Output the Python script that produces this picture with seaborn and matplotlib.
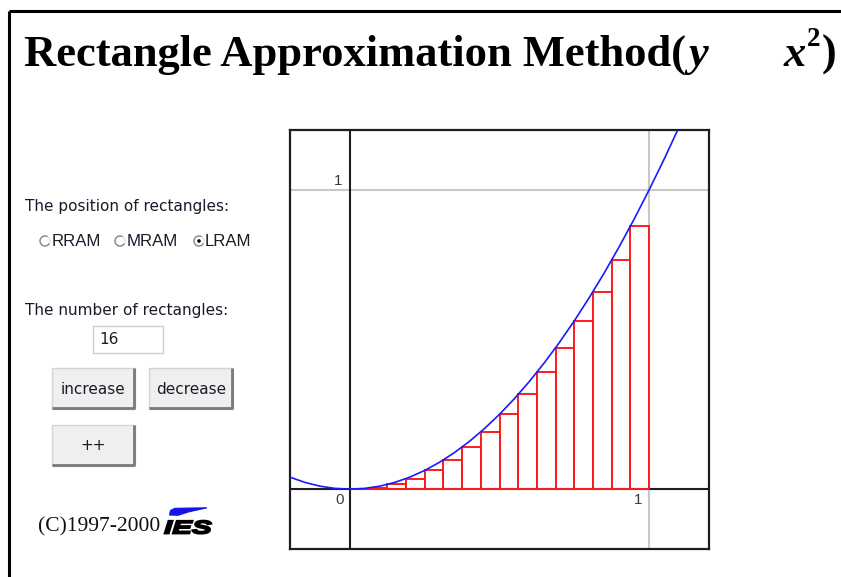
import numpy as np
import pandas as pd
import seaborn as sns
import matplotlib
matplotlib.use("Agg")
import matplotlib.pyplot as plt
from matplotlib.patches import Rectangle, Circle, Polygon, PathPatch, Arc
from matplotlib.textpath import TextPath
from matplotlib.font_manager import FontProperties
from matplotlib.transforms import Affine2D

# ---------------- data ----------------
curve_x = [-0.20, -0.15, -0.10, -0.05, 0.00, 0.05, 0.10, 0.15, 0.20, 0.25, 0.30,
           0.35, 0.40, 0.45, 0.50, 0.55, 0.60, 0.65, 0.70, 0.75, 0.80, 0.85,
           0.90, 0.95, 1.00, 1.05, 1.10]
curve_y = [0.0400, 0.0225, 0.0100, 0.0025, 0.0000, 0.0025, 0.0100, 0.0225, 0.0400,
           0.0625, 0.0900, 0.1225, 0.1600, 0.2025, 0.2500, 0.3025, 0.3600, 0.4225,
           0.4900, 0.5625, 0.6400, 0.7225, 0.8100, 0.9025, 1.0000, 1.1025, 1.2100]
rect_left = [0.0000, 0.0625, 0.1250, 0.1875, 0.2500, 0.3125, 0.3750, 0.4375,
             0.5000, 0.5625, 0.6250, 0.6875, 0.7500, 0.8125, 0.8750, 0.9375]
rect_height = [0.0000, 0.0039, 0.0156, 0.0352, 0.0625, 0.0977, 0.1406, 0.1914,
               0.2500, 0.3164, 0.3906, 0.4727, 0.5625, 0.6602, 0.7656, 0.8789]
rect_width = 0.0625
tick_labels = ["0", "1", "1"]
title_main = "Rectangle Approximation Method("
n_rect = "16"
radio_labels = ["RRAM", "MRAM", "LRAM"]
selected = "LRAM"
button_labels = ["increase", "decrease", "++"]

# ---------------- figure ----------------
sns.set_theme(style="white")
plt.rcParams["font.family"] = ["Liberation Sans", "DejaVu Sans"]
W, H = 841, 577
fig = plt.figure(figsize=(W / 100, H / 100), dpi=100)
fig.patch.set_facecolor("white")

ui = fig.add_axes([0, 0, 1, 1])
ui.set_xlim(0, W)
ui.set_ylim(H, 0)
ui.axis("off")

def px(p):
    return p * 0.72

# outer frame (top and left edges visible)
ui.plot([9.5, W + 5], [11, 11], color="black", lw=2.2, solid_capstyle="butt")
ui.plot([9.5, 9.5], [11, H + 5], color="black", lw=2.2, solid_capstyle="butt")

# title
serif = ["Liberation Serif", "DejaVu Serif"]
tfs_title = px(44.5)
ui.text(24, 66, title_main, fontsize=tfs_title, fontweight="bold", family=serif,
        va="baseline", ha="left", color="black")
ui.text(688, 66, "y", fontsize=tfs_title, fontweight="bold", fontstyle="italic",
        family=serif, va="baseline", ha="left", color="black")
ui.text(784, 66, "x", fontsize=tfs_title, fontweight="bold", fontstyle="italic",
        family=serif, va="baseline", ha="left", color="black")
ui.text(807, 46, "2", fontsize=px(27), fontweight="bold", family=serif,
        va="baseline", ha="left", color="black")
ui.text(822, 66, ")", fontsize=tfs_title, fontweight="bold", family=serif,
        va="baseline", ha="left", color="black")

lab_font = ["DejaVu Sans"]
lab_fs = px(15.2)
txtc = "#1a1a2a"
ui.text(25, 207, "The position of rectangles:", fontsize=lab_fs, color=txtc,
        va="center", ha="left", family=lab_font)
ui.text(25, 311, "The number of rectangles:", fontsize=lab_fs, color=txtc,
        va="center", ha="left", family=lab_font)

# radio buttons
radio_cx = [45, 120, 199]
radio_tx = [52, 127, 205]
for cx, tx, lab in zip(radio_cx, radio_tx, radio_labels):
    ui.add_patch(Circle((cx, 241), 5, facecolor="white", edgecolor="#e0e0e0", lw=1))
    ui.add_patch(Arc((cx, 241), 10, 10, theta1=30, theta2=300, color="#8a8a8a", lw=1))
    if lab == selected:
        ui.add_patch(Circle((cx, 241), 1.8, facecolor="black", edgecolor="none"))
    ui.text(tx, 241.5, lab, fontsize=px(16.8), color=txtc, va="center", ha="left",
            family=["Liberation Sans"])

# text field
ui.add_patch(Rectangle((93, 326), 70, 27, facecolor="white", edgecolor="#cfcfcf", lw=1))
ui.text(99, 339.5, n_rect, fontsize=lab_fs, color=txtc, va="center", ha="left",
        family=lab_font)

# buttons
def button(x0, y0, x1, y1, label):
    ui.add_patch(Rectangle((x0, y0), x1 - x0, y1 - y0, facecolor="#efefef",
                           edgecolor="#d4d4d4", lw=1))
    ui.plot([x1 - 1, x1 - 1, x0], [y0, y1 - 1, y1 - 1], color="#7a7a7a", lw=2,
            solid_capstyle="butt")
    ui.text((x0 + x1) / 2, (y0 + y1) / 2 + 0.5, label, fontsize=lab_fs, color=txtc,
            va="center", ha="center", family=lab_font)

button(52, 368, 135, 409, button_labels[0])
button(149, 368, 233, 409, button_labels[1])
button(52, 425, 135, 466, button_labels[2])

# copyright + logo
ui.text(38, 527, "(C)1997-2000", fontsize=px(21.5), family=serif, color="#111111",
        va="center", ha="left")
fp = FontProperties(family="Liberation Sans", weight="bold", style="italic")
tp = TextPath((0, 0), "IES", size=18.5, prop=fp)
tr = Affine2D().scale(1.6, -1.0).translate(164, 533.5)
ui.add_patch(PathPatch(tr.transform_path(tp), facecolor="black", edgecolor="black", lw=1.3))
ui.add_patch(Polygon([(169.5, 515), (170.5, 510.5), (175, 508.3), (207, 507.8),
                      (189, 511.8), (178, 515.3)], closed=True,
                     facecolor="#1414e6", edgecolor="#1414e6", lw=0.8))

# ---------------- main plot ----------------
x0, x1, yt, yb = 290, 709, 130, 549
ax = fig.add_axes([x0 / W, (H - yb) / H, (x1 - x0) / W, (yb - yt) / H])
ax.set_facecolor("white")
ax.set_xlim(-0.2, 1.2)
ax.set_ylim(-0.2, 1.2)
ax.set_xticks([])
ax.set_yticks([])
for s in ax.spines.values():
    s.set_visible(True)
    s.set_color("#1e1e1e")
    s.set_linewidth(1.6)

ax.axvline(1, color="#c8c8c8", lw=1.5, zorder=1)
ax.axhline(1, color="#c8c8c8", lw=1.5, zorder=1)
ax.axvline(0, color="#1e1e1e", lw=1.5, zorder=2)
ax.axhline(0, color="#1e1e1e", lw=1.5, zorder=2)

ax.bar(rect_left, rect_height, width=rect_width, align="edge", bottom=0,
       fill=False, edgecolor="#ff1a1a", linewidth=1.4, zorder=3)

df = pd.DataFrame({"x": curve_x, "y": curve_y})
sns.lineplot(data=df, x="x", y="y", ax=ax, color="#1a1aff", lw=1.2, sort=False,
             estimator=None, zorder=4)
ax.set_xlabel("")
ax.set_ylabel("")

tfs = px(15)
tc = "#3a3a3a"
ax.text(-0.02, -0.035, tick_labels[0], fontsize=tfs, color=tc, ha="right", va="center")
ax.text(0.978, -0.035, tick_labels[1], fontsize=tfs, color=tc, ha="right", va="center")
ax.text(-0.027, 1.03, tick_labels[2], fontsize=tfs, color=tc, ha="right", va="center")

fig.savefig("out.png", dpi=100, facecolor="white")
